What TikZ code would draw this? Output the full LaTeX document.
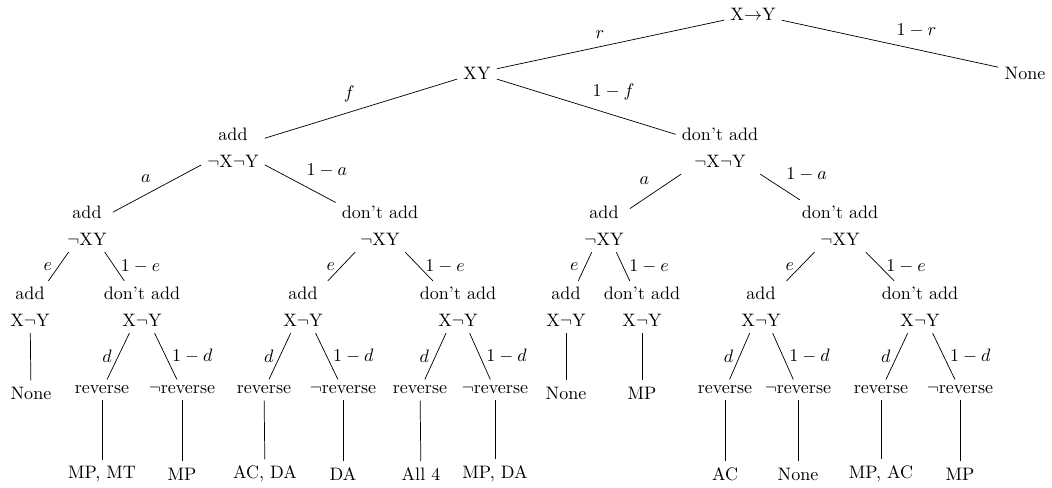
\documentclass[tikz,border=0pt]{standalone}
\usepackage{amsmath}
\tikzset{
  st/.style={align=center, font=\linespread{1.25}\selectfont},
  lf/.style={inner sep=3.33pt}
}
\begin{document}
\begin{tikzpicture}[x=0.555pt,y=0.555pt,yscale=-1,xscale=1]
%set diagram size
\useasboundingbox (0,0) rectangle (1052,488);

% Text Node: root and first split
\node [lf] (root) at (753,14) {X$\to$Y};
\node [lf] (xy) at (477,73) {XY};
\node [lf] (none0) at (1025,73) {None};

% Text Node: level 2
\node [st] (L) at (233,148) {add\\$\neg$X$\neg$Y};
\node [st] (R) at (720,148) {don't add\\$\neg$X$\neg$Y};

% Text Node: level 3
\node [st] (LL) at (87,226) {add\\$\neg$XY};
\node [st] (LR) at (380,226) {don't add\\$\neg$XY};
\node [st] (RL) at (604,226) {add\\$\neg$XY};
\node [st] (RR) at (840,226) {don't add\\$\neg$XY};

% Text Node: level 4
\node [st] (LLL) at (30,307) {add\\X$\neg$Y};
\node [st] (LLR) at (142,307) {don't add\\X$\neg$Y};
\node [st] (LRL) at (303,307) {add\\X$\neg$Y};
\node [st] (LRR) at (458,307) {don't add\\X$\neg$Y};
\node [st] (RLL) at (566,307) {add\\X$\neg$Y};
\node [st] (RLR) at (642,307) {don't add\\X$\neg$Y};
\node [st] (RRL) at (761,307) {add\\X$\neg$Y};
\node [st] (RRR) at (920,307) {don't add\\X$\neg$Y};

% Text Node: level 5
\node (n1) at (31,393) {None};
\node (r1) at (102,390) {reverse};
\node (nr1) at (182,390) {$\neg$reverse};
\node (r2) at (264,390) {reverse};
\node (nr2) at (343,390) {$\neg$reverse};
\node (r3) at (420,390) {reverse};
\node (nr3) at (495,390) {$\neg$reverse};
\node (n2) at (566,393) {None};
\node (m2) at (642,393) {MP};
\node (r4) at (725,390) {reverse};
\node (nr4) at (798,390) {$\neg$reverse};
\node (r5) at (881,390) {reverse};
\node (nr5) at (960,390) {$\neg$reverse};

% Text Node: outcomes
\node (o1) at (102,474) {MP, MT};
\node (o2) at (182,474) {MP};
\node (o3) at (265,474) {AC, DA};
\node (o4) at (343,474) {DA};
\node (o5) at (421,474) {All 4};
\node (o6) at (495,474) {MP, DA};
\node (o7) at (725,474) {AC};
\node (o8) at (798,474) {None};
\node (o9) at (881,474) {MP, AC};
\node (o10) at (960,474) {MP};

%Straight Lines: top splits
\draw (root) -- node [above left] {$r$} (xy);
\draw (root) -- node [above right] {$1-r$} (none0);
\draw (xy) -- node [above left] {$f$} (L);
\draw (xy) -- node [above right] {$1-f$} (R);

%Straight Lines: level 3
\draw (L) -- node [above left] {$a$} (LL);
\draw (L) -- node [above right] {$1-a$} (LR);
\draw (R) -- node [above left] {$a$} (RL);
\draw (R) -- node [above right] {$1-a$} (RR);

%Straight Lines: level 4
\draw (LL) -- node [left] {$e$} (LLL);
\draw (LL) -- node [right] {$1-e$} (LLR);
\draw (LR) -- node [left] {$e$} (LRL);
\draw (LR) -- node [right] {$1-e$} (LRR);
\draw (RL) -- node [left] {$e$} (RLL);
\draw (RL) -- node [right] {$1-e$} (RLR);
\draw (RR) -- node [left] {$e$} (RRL);
\draw (RR) -- node [right] {$1-e$} (RRR);

%Straight Lines: level 5
\draw (LLL) -- (n1);
\draw (LLR) -- node [left] {$d$} (r1);
\draw (LLR) -- node [right] {$1-d$} (nr1);
\draw (LRL) -- node [left] {$d$} (r2);
\draw (LRL) -- node [right] {$1-d$} (nr2);
\draw (LRR) -- node [left] {$d$} (r3);
\draw (LRR) -- node [right] {$1-d$} (nr3);
\draw (RLL) -- (n2);
\draw (RLR) -- (m2);
\draw (RRL) -- node [left] {$d$} (r4);
\draw (RRL) -- node [right] {$1-d$} (nr4);
\draw (RRR) -- node [left] {$d$} (r5);
\draw (RRR) -- node [right] {$1-d$} (nr5);

%Straight Lines: outcomes
\draw (r1) -- (o1);
\draw (nr1) -- (o2);
\draw (r2) -- (o3);
\draw (nr2) -- (o4);
\draw (r3) -- (o5);
\draw (nr3) -- (o6);
\draw (r4) -- (o7);
\draw (nr4) -- (o8);
\draw (r5) -- (o9);
\draw (nr5) -- (o10);

\end{tikzpicture}
\end{document}
